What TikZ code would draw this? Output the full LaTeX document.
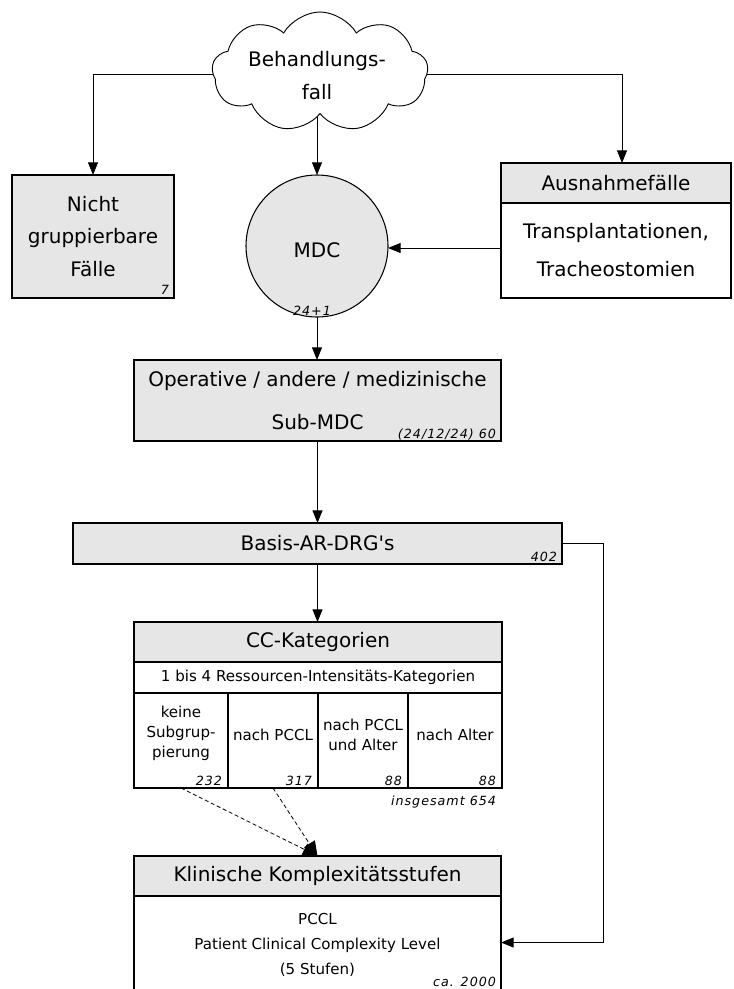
\documentclass[tikz,border=0pt]{standalone}
\usepackage{fontspec}
\setmainfont{DejaVu Sans}[Ligatures=TeXOff]
\newfontfamily\numfont{DejaVu Sans}[LetterSpace=8]
\usetikzlibrary{shapes.symbols,arrows.meta,backgrounds,calc}
\definecolor{boxgray}{HTML}{E6E6E6}
\tikzset{
  every node/.style={inner sep=0pt, outer sep=0pt},
  box/.style={draw, line width=0.8pt, rectangle, anchor=north west},
  gbox/.style={box, fill=boxgray},
  big/.style={font=\fontsize{15}{#1}\selectfont, align=center},
  big/.default=24.5,
  mid/.style={font=\fontsize{11.3}{#1}\selectfont, align=center},
  mid/.default=15,
  num/.style={font=\numfont\itshape\fontsize{9.5}{11}\selectfont, anchor=base east},
  arr/.style={draw, line width=0.7pt, -{Triangle[length=9.5pt,width=7.5pt]}},
  dasharr/.style={draw, line width=0.6pt, dash pattern=on 3pt off 2pt, -{Triangle[length=11pt,width=9.5pt]}},
}
\begin{document}
\begin{tikzpicture}[x=0.75pt,y=-0.75pt]
\useasboundingbox (0,0) rectangle (734,989);

% cloud
\node[cloud, draw, fill=white, line width=0.7pt, cloud puffs=9, cloud puff arc=120, aspect=1.8,
      minimum width=162pt, minimum height=90pt] (cloud) at (320,72) {};
\node[big=24.75] (cloudt) at (317,76) {Behandlungs-\\fall};

% Nicht gruppierbare Faelle
\node[gbox, minimum width=121.5pt, minimum height=92.25pt, big=24.4] (nicht) at (12,175) {Nicht\\gruppierbare\\Fälle};
\node[num] (n7) at (169,294) {7};

% MDC
\node[circle, draw, fill=boxgray, line width=0.8pt, minimum size=106.5pt] (mdc) at (317,246) {};
\node[big] (mdct) at (317,250) {MDC};
\node[num, anchor=base] (n241) at (312,315) {24+1};

% Ausnahmefaelle
\node[box, minimum width=172.5pt, minimum height=30pt, fill=boxgray, big] (aushead) at (501,163) {Ausnahmefälle};
\node[box, minimum width=172.5pt, minimum height=71.25pt, big=28.5] (ausbody) at (501,203) {Transplantationen,\\Tracheostomien};

% Operative
\node[gbox, minimum width=275.25pt, minimum height=60.75pt, big=32.25] (op) at (134,360) {Operative / andere / medizinische\\Sub-MDC};
\node[num] (n60) at (496,438) {(24/12/24) 60};

% Basis
\node[gbox, minimum width=366.75pt, minimum height=30.75pt, big] (basis) at (73,523) {Basis-AR-DRG's};
\node[num] (n402) at (557,561) {402};

% CC-Kategorien
\node[gbox, minimum width=276pt, minimum height=30pt, big] (cchead) at (134,622) {CC-Kategorien};
\node[box, minimum width=276pt, minimum height=23.25pt, mid] (ccrow) at (134,662) {1 bis 4 Ressourcen-Intensitäts-Kategorien};
\node[box, minimum width=70.5pt, minimum height=71.25pt] (col1) at (134,693) {};
\node[box, minimum width=67.5pt, minimum height=71.25pt] (col2) at (228,693) {};
\node[box, minimum width=67.5pt, minimum height=71.25pt] (col3) at (318,693) {};
\node[box, minimum width=70.5pt, minimum height=71.25pt] (col4) at (408,693) {};
\node[mid] (c1t) at (181,733) {keine\\Subgrup-\\pierung};
\node[mid] (c2t) at (273,735) {nach PCCL};
\node[mid] (c3t) at (363,735) {nach PCCL\\und Alter};
\node[mid] (c4t) at (455,735) {nach Alter};
\node[num] (n232) at (222,785) {232};
\node[num] (n317) at (312,785) {317};
\node[num] (n88a) at (402,785) {88};
\node[num] (n88b) at (496,785) {88};
\node[num] (nges) at (496,805) {insgesamt 654};

% Klinische Komplexitaetsstufen
\node[gbox, minimum width=275.25pt, minimum height=30pt, big] (khead) at (134,856) {Klinische Komplexitätsstufen};
\node[rectangle, anchor=north west, minimum width=275.25pt, minimum height=69.75pt] (kbody) at (134,896) {};
\draw[line width=0.8pt] (kbody.south west) -- (kbody.north west) -- (kbody.north east) -- (kbody.south east);
\node[mid=19] (ktext) at (317.5,945) {PCCL\\Patient Clinical Complexity Level\\(5 Stufen)};
\node[num] (nca) at (496,986) {ca. 2000};

% connectors
\begin{scope}[on background layer]
\coordinate (cl) at (317,74);
\coordinate (ain) at (622,163);
\draw[arr] (cl) -| (nicht.north);
\draw[arr] (cl) -| (ain);
\draw[arr] (mdc.north |- cloud.center) -- (mdc.north);
\coordinate (aout) at (501,248);
\draw[arr] (aout) -- (aout -| mdc.east);
\draw[arr] (mdc.south) -- (mdc.south |- op.north);
\draw[arr] (op.south) -- (op.south |- basis.north);
\draw[arr] (basis.south) -- (basis.south |- cchead.north);
\coordinate (rc) at (603,543.5);
\draw[arr] (basis.east) -- (rc) |- (kbody.east);
\draw[dasharr] (col1.south) -- (khead.north);
\draw[dasharr] (col2.south) -- (khead.north);
\end{scope}
\end{tikzpicture}
\end{document}
